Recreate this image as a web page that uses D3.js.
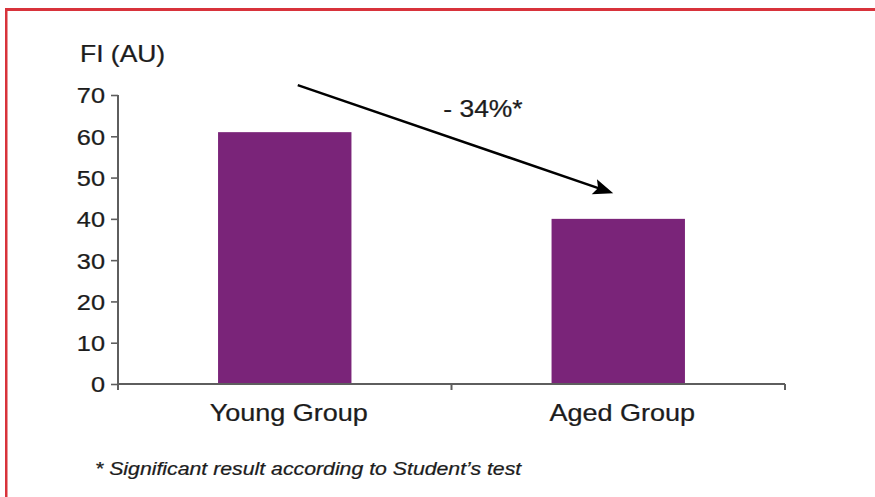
<!DOCTYPE html>
<html>
<head>
<meta charset="utf-8">
<script src="https://cdn.jsdelivr.net/npm/d3@7"></script>
<style>
  html, body { margin: 0; padding: 0; background: #fff; }
  svg { display: block; }
  text { font-family: "Liberation Sans", Arial, Helvetica, sans-serif; fill: #1c1c1c; stroke: #1c1c1c; stroke-width: 0.25px; }
</style>
</head>
<body>
<svg id="chart" width="875" height="497"></svg>
<script>
// ---- data ----
const categories = ["Young Group", "Aged Group"];
const values = [61, 40];
const yTicks = [0, 10, 20, 30, 40, 50, 60, 70];
const yLabel = "FI (AU)";
const changeLabel = "- 34%*";
const footnote = "* Significant result according to Student\u2019s test";
// arrow annotation endpoints (category, value) with pixel nudge
const arrowFrom = { cat: "Young Group", v: 72.4, dx: 13 };
const arrowTo = { cat: "Aged Group", v: 46.2, dx: -5 };

(function () {
const svg = d3.select("#chart");
const W = 875, H = 497;
const mLeft = 118, mRight = 785, mTop = 95, mBottom = 384;
const SX = 1.15; // horizontal text stretch seen in the reference

function stretch(sel) {
  sel.each(function () {
    const t = d3.select(this);
    const tx = +t.attr("x") || 0, ty = +t.attr("y") || 0;
    t.attr("x", 0).attr("y", 0).attr("transform", `translate(${tx},${ty}) scale(${SX},1)`);
  });
}

// frame (red border: top and left)
const red = "#d8333b";
svg.append("rect").attr("x", 5).attr("y", 8).attr("width", 2.5).attr("height", H - 8).attr("fill", red);
svg.append("rect").attr("x", 5).attr("y", 8).attr("width", W - 5).attr("height", 3).attr("fill", red);

const x = d3.scaleBand().domain(categories).range([mLeft, mRight]).paddingInner(0.6).paddingOuter(0.3);
const y = d3.scaleLinear().domain([0, 70]).range([mBottom, mTop]);

const axisColor = "#5e5e5e";

// bars
svg.append("g").selectAll("rect").data(categories).join("rect")
  .attr("x", d => x(d))
  .attr("width", x.bandwidth())
  .attr("y", (d, i) => y(values[i]))
  .attr("height", (d, i) => y(0) - y(values[i]))
  .attr("fill", "#7a2479");

// y axis
const yAxis = svg.append("g").attr("transform", `translate(${mLeft},0)`)
  .call(d3.axisLeft(y).tickValues(yTicks).tickSize(7).tickPadding(6).tickSizeOuter(0));
yAxis.select(".domain").attr("stroke", axisColor).attr("stroke-width", 2)
  .attr("d", `M0,${y(70)}V${mBottom + 6}`);
yAxis.selectAll(".tick line").attr("stroke", axisColor).attr("stroke-width", 1.6);
yAxis.selectAll(".tick text").style("font-size", "22px").attr("fill", "#1c1c1c")
  .style("font-family", '"Liberation Sans", Arial, sans-serif').attr("dy", "0.36em")
  .call(stretch);

// x axis with ticks at band boundaries
const step = x.step();
const bounds = [mLeft, x(categories[0]) + x.bandwidth() + (step - x.bandwidth()) / 2, mRight];
const xAxisG = svg.append("g");
xAxisG.append("line").attr("x1", mLeft).attr("x2", mRight).attr("y1", mBottom).attr("y2", mBottom)
  .attr("stroke", axisColor).attr("stroke-width", 2);
xAxisG.selectAll("line.t").data(bounds).join("line").attr("class", "t")
  .attr("x1", d => d).attr("x2", d => d).attr("y1", mBottom).attr("y2", mBottom + 6)
  .attr("stroke", axisColor).attr("stroke-width", 2);
xAxisG.selectAll("text").data(categories).join("text")
  .attr("x", d => x(d) + x.bandwidth() / 2 + 4)
  .attr("y", mBottom + 37)
  .attr("text-anchor", "middle")
  .style("font-size", "23.5px")
  .text(d => d)
  .call(stretch);

// y label
svg.append("text").attr("x", 80).attr("y", 62).style("font-size", "23px").text(yLabel).call(stretch);

// arrow
const ax1 = x(arrowFrom.cat) + x.bandwidth() / 2 + arrowFrom.dx;
const ay1 = y(arrowFrom.v);
const ax2 = x(arrowTo.cat) + x.bandwidth() / 2 + arrowTo.dx;
const ay2 = y(arrowTo.v);
const ang = Math.atan2(ay2 - ay1, ax2 - ax1);
const hl = 20, hw = 8;
const bx = ax2 - hl * Math.cos(ang), by = ay2 - hl * Math.sin(ang);
svg.append("line").attr("x1", ax1).attr("y1", ay1).attr("x2", bx + 5 * Math.cos(ang)).attr("y2", by + 5 * Math.sin(ang))
  .attr("stroke", "#000").attr("stroke-width", 2.5);
svg.append("path")
  .attr("d", `M${ax2},${ay2}L${bx + hw * Math.sin(ang)},${by - hw * Math.cos(ang)}L${bx + 4 * Math.cos(ang)},${by + 4 * Math.sin(ang)}L${bx - hw * Math.sin(ang)},${by + hw * Math.cos(ang)}Z`)
  .attr("fill", "#000");

svg.append("text").attr("x", 483).attr("y", 117).attr("text-anchor", "middle")
  .style("font-size", "23px").text(changeLabel).call(stretch);

// footnote
svg.append("text").attr("x", 95).attr("y", 475).style("font-size", "18.5px")
  .style("font-style", "italic").text(footnote).call(stretch);
})();
</script>
</body>
</html>
